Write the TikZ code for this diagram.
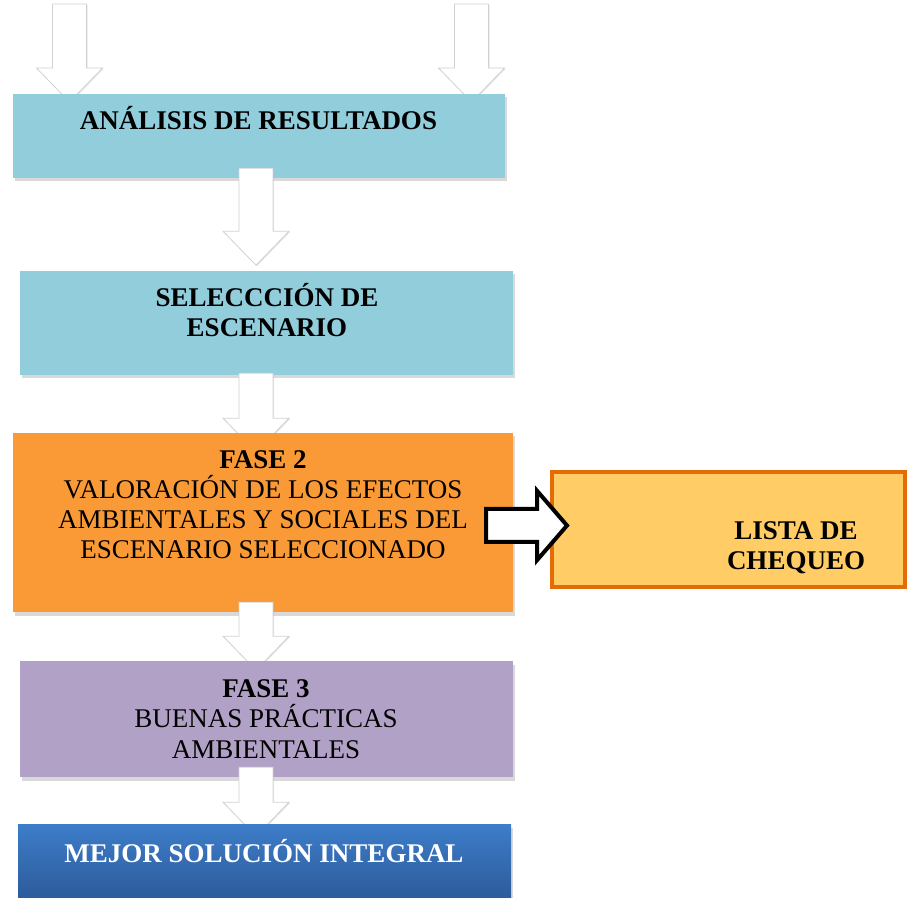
\documentclass[tikz,border=0pt]{standalone}
\usepackage{fontspec}
\setmainfont{Liberation Serif}
\usetikzlibrary{calc,positioning,shadows}

\definecolor{celeste}{HTML}{92CDDC}
\definecolor{naranja}{HTML}{FA9A37}
\definecolor{lila}{HTML}{B2A1C7}
\definecolor{amarillo}{HTML}{FFCC66}
\definecolor{borde}{HTML}{E36C09}
\definecolor{azulsup}{HTML}{3D7DCA}
\definecolor{azulinf}{HTML}{2C5896}

\tikzset{
  caja/.style={rectangle, inner sep=0pt,
    drop shadow={shadow xshift=1.5pt, shadow yshift=-3.5pt, opacity=0.3}},
  texto/.style={anchor=base, align=center, inner sep=0pt,
    font=\fontsize{27}{30.3}\selectfont},
  negrita/.style={texto, font=\fontsize{27}{30.3}\selectfont\bfseries},
  flecha/.style={fill=white, draw=black!18, line width=0.8pt,
    drop shadow={shadow xshift=1pt, shadow yshift=-1pt, opacity=0.2}},
  flechader/.style={fill=white, draw=black, line width=4pt, line join=miter}
}

% white block arrow pointing down, cut at the top of the target box
\newcommand{\flechabaja}[3]{%
  \begin{scope}
    \clip (0,0 |- #3.north) rectangle (909,897);
    \path[flecha] (#1) ++(-17,0) -- ++(0,-#2) -- ++(-16,0) -- ++(33,-34)
      -- ++(33,34) -- ++(-16,0) -- ++(0,#2) -- cycle;
  \end{scope}}

\begin{document}
\begin{tikzpicture}[x=1pt, y=1pt]
\useasboundingbox (0,0) rectangle (909,897);

% boxes
\node[caja, fill=celeste, minimum width=492pt, minimum height=84pt] (analisis) at (259,761) {};
\node[caja, fill=celeste, minimum width=493pt, minimum height=104pt] (seleccion) at (266.5,574) {};
\node[caja, fill=naranja, minimum width=500pt, minimum height=179pt] (fase2) at (263,374.5) {};
\node[caja, fill=lila, minimum width=493pt, minimum height=116pt] (fase3) at (266.5,178) {};
\node[caja, top color=azulsup, bottom color=azulinf, minimum width=493pt, minimum height=81pt] (mejor) at (264.5,32.5) {};
\node[rectangle, fill=amarillo, draw=borde, line width=4pt, minimum width=353pt, minimum height=115pt] (lista) at (728.5,367.5) {};

% texts (base = last line)
\node[negrita] (t-analisis) at (258.5,767) {ANÁLISIS DE RESULTADOS};
\node[negrita] (t-seleccion) at (267,560) {SELECCCIÓN DE\\ESCENARIO};
\node[texto] (t-fase2) at (263,338) {\textbf{FASE 2}\\VALORACIÓN DE LOS EFECTOS\\AMBIENTALES Y SOCIALES DEL\\ESCENARIO SELECCIONADO};
\node[texto] (t-fase3) at (266,139) {\textbf{FASE 3}\\BUENAS PRÁCTICAS\\AMBIENTALES};
\node[negrita, text=white] (t-mejor) at (264,35) {MEJOR SOLUCIÓN INTEGRAL};
\node[negrita] (t-lista) at (796,327) {LISTA DE\\CHEQUEO};

% down arrows
\coordinate (eje) at (256,0);
\foreach \xf in {69.5,471.5}{
  \coordinate (arriba) at (\xf,893);
  \flechabaja{arriba}{64}{analisis}
}
\flechabaja{$(analisis.south -| eje)+(0,10)$}{63}{seleccion}
\flechabaja{$(seleccion.south -| eje)+(0,2)$}{45}{fase2}
\flechabaja{$(fase2.south -| eje)+(0,10)$}{34}{fase3}
\flechabaja{$(fase3.south -| eje)+(0,10)$}{35}{mejor}

% arrow to the check list
\coordinate (pr) at ($(fase2.east)+(-27,-3)$);
\draw[flechader] (pr) ++(0,16.5) -- ++(51,0) -- ++(0,18)
  -- ($(pr -| lista.west)+(17,0)$) -- ($(pr)+(51,-34.5)$) -- ++(0,18)
  -- ($(pr)+(0,-16.5)$) -- cycle;
\end{tikzpicture}
\end{document}
